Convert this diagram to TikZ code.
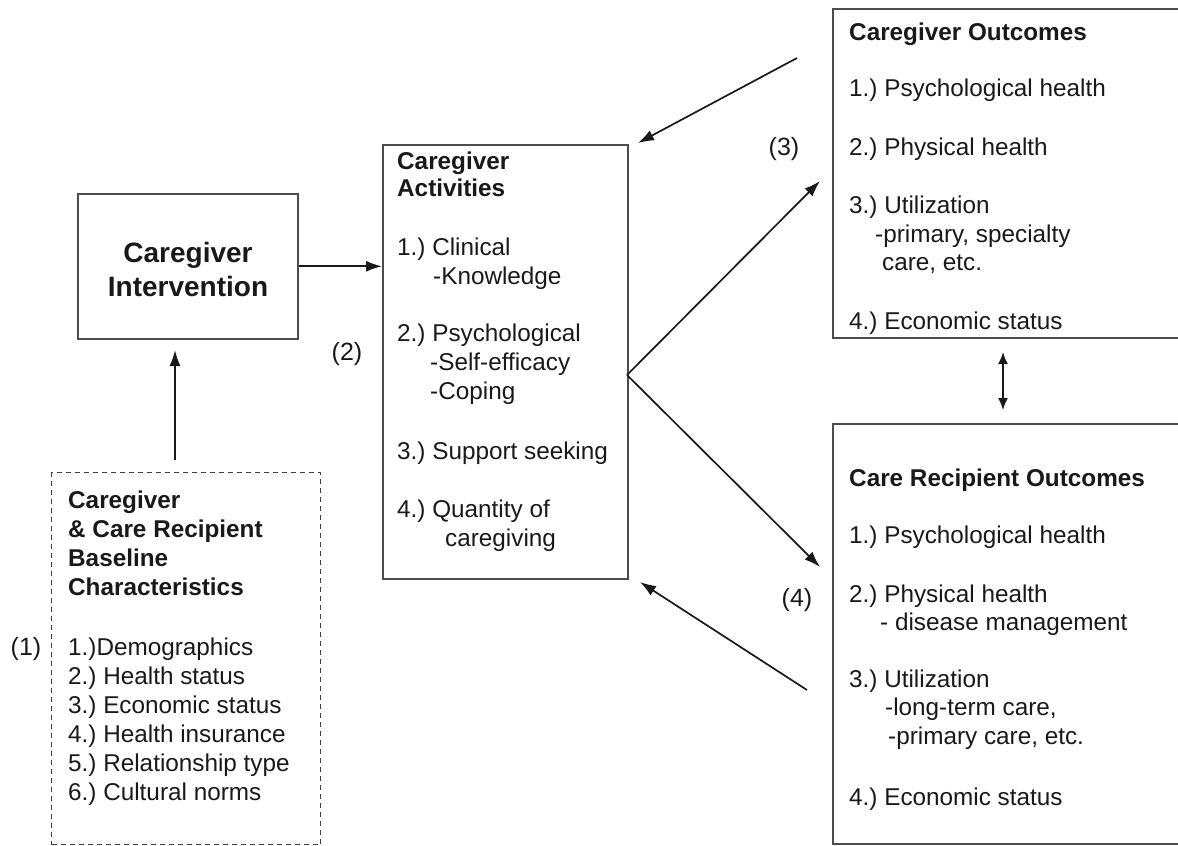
\documentclass[tikz,border=0pt]{standalone}
\usepackage{fontspec}
\setmainfont{Liberation Sans}
\usetikzlibrary{arrows.meta}
\frenchspacing
\begin{document}
\begin{tikzpicture}[x=1pt,y=-1pt,
 box/.style={draw=black!70, line width=1.6pt, anchor=north west, inner sep=0, fill=none},
 dbox/.style={box, dash pattern=on 5pt off 4pt, line width=1.4pt, draw=black!75},
 txt/.style={anchor=mid west, inner sep=0, yshift=-6pt, text=black!90, font=\fontsize{24.3}{28}\selectfont},
 ttl/.style={txt, font=\fontsize{24.3}{28}\selectfont\bfseries},
 lbl/.style={anchor=mid, inner sep=0, yshift=-6pt, text=black!90, font=\fontsize{25}{28}\selectfont},
 arr/.style={-{Latex[length=16pt,width=11pt]}, line width=1.7pt, draw=black!90},
 darr/.style={{Latex[length=12pt,width=10pt]}-{Latex[length=12pt,width=10pt]}, line width=1.7pt, draw=black!90},
]
\useasboundingbox (0,0) rectangle (1178,846);
\clip (0,0) rectangle (1178,846);

% boxes
\node[box, minimum width=220, minimum height=145] (int) at (77,193) {};
\node[box, minimum width=245, minimum height=434] (act) at (382,144) {};
\node[box, minimum width=380, minimum height=329] (co) at (832,8) {};
\node[box, minimum width=380, minimum height=420] (cr) at (832,423) {};
\node[dbox, minimum width=269, minimum height=372] (base) at (51,472) {};

% intervention text
\node[anchor=center, align=center, inner sep=0, text=black!90, font=\fontsize{28}{34}\selectfont\bfseries] (intt) at (188,269) {Caregiver\\Intervention};

% activities
\node[ttl] (a0) at (397,161) {Caregiver};
\node[ttl] (a0b) at (397,188) {Activities};
\node[txt] (a1) at (397,247) {1.) Clinical};
\node[txt] (a1a) at (433,276) {-Knowledge};
\node[txt] (a2) at (397,333) {2.) Psychological};
\node[txt] (a2a) at (430,362) {-Self-efficacy};
\node[txt] (a2b) at (430,391) {-Coping};
\node[txt] (a3) at (397,451) {3.) Support seeking};
\node[txt] (a4) at (397,509) {4.) Quantity of};
\node[txt] (a4a) at (445,538) {caregiving};

% caregiver outcomes
\node[ttl] (c0) at (849,32) {Caregiver Outcomes};
\node[txt] (c1) at (849,88) {1.) Psychological health};
\node[txt] (c2) at (849,147) {2.) Physical health};
\node[txt] (c3) at (849,205) {3.) Utilization};
\node[txt] (c3a) at (875,234) {-primary, specialty};
\node[txt] (c3b) at (882,262) {care, etc.};
\node[txt] (c4) at (849,321) {4.) Economic status};

% care recipient outcomes
\node[ttl] (r0) at (849,478) {Care Recipient Outcomes};
\node[txt] (r1) at (849,535) {1.) Psychological health};
\node[txt] (r2) at (849,594) {2.) Physical health};
\node[txt] (r2a) at (880,622) {- disease management};
\node[txt] (r3) at (849,679) {3.) Utilization};
\node[txt] (r3a) at (885,707) {-long-term care,};
\node[txt] (r3b) at (888,736) {-primary care, etc.};
\node[txt] (r4) at (849,797) {4.) Economic status};

% baseline
\node[ttl] (b0) at (68,500) {Caregiver};
\node[ttl] (b0a) at (68,529) {\& Care Recipient};
\node[ttl] (b0b) at (68,558) {Baseline};
\node[ttl] (b0c) at (68,587) {Characteristics};
\node[txt] (b1) at (68,647) {1.)Demographics};
\node[txt] (b2) at (68,676) {2.) Health status};
\node[txt] (b3) at (68,705) {3.) Economic status};
\node[txt] (b4) at (68,734) {4.) Health insurance};
\node[txt] (b5) at (68,763) {5.) Relationship type};
\node[txt] (b6) at (68,792) {6.) Cultural norms};

% labels
\node[lbl] (l1) at (26,647) {(1)};
\node[lbl] (l2) at (347,352) {(2)};
\node[lbl] (l3) at (784,147) {(3)};
\node[lbl] (l4) at (797,598) {(4)};

% connector end points
\coordinate (fork) at (627,375);
\coordinate (coT) at (820,181);
\coordinate (crT) at (820,567);
\coordinate (coS) at (797,58);
\coordinate (actTR) at (638,143);
\coordinate (crS) at (807,690);
\coordinate (actBR) at (640,582);
\coordinate (bS) at (175,460);
\coordinate (bT) at (175,350);
\coordinate (dT) at (1003,352);
\coordinate (dB) at (1003,410);

\draw[arr] (int.east) -- (int.east -| act.west);
\draw[arr] (bS) -- (bT);
\draw[arr] (fork) -- (coT);
\draw[arr] (fork) -- (crT);
\draw[arr] (coS) -- (actTR);
\draw[arr] (crS) -- (actBR);
\draw[darr] (dT) -- (dB);
\end{tikzpicture}
\end{document}
